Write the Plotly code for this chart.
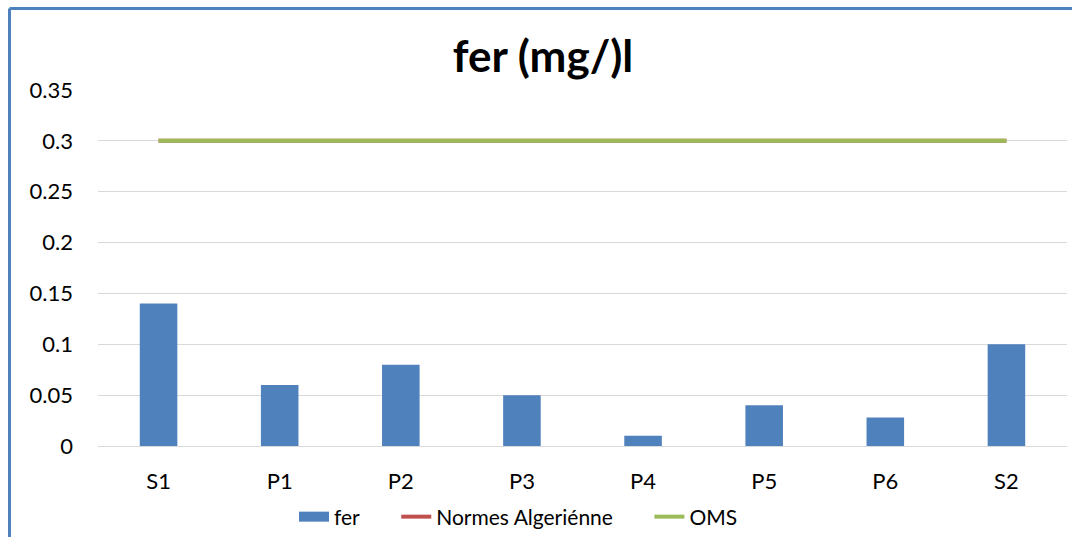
import plotly.graph_objects as go

categories = ["S1", "P1", "P2", "P3", "P4", "P5", "P6", "S2"]
fer = [0.14, 0.06, 0.08, 0.05, 0.01, 0.04, 0.028, 0.10]
normes_alg = [0.3] * 8
oms = [0.3] * 8
y_ticks = [0, 0.05, 0.1, 0.15, 0.2, 0.25, 0.3, 0.35]
y_tick_labels = ["0", "0.05", "0.1", "0.15", "0.2", "0.25", "0.3", "0.35"]

FONT = "Lato, 'Open Sans', sans-serif"

fig = go.Figure()
fig.add_trace(go.Bar(x=categories, y=fer, name="fer", marker_color="#4F81BD",
                     marker_line_width=0, showlegend=False))
# legend entry for the bar series drawn as a wide block like the original
fig.add_trace(go.Scatter(x=[None], y=[None], name="fer", mode="lines",
                         line=dict(color="#4F81BD", width=14)))
fig.add_trace(go.Scatter(x=categories, y=normes_alg, name="Normes Algeriénne",
                         mode="lines", line=dict(color="#C0504D", width=4)))
fig.add_trace(go.Scatter(x=categories, y=oms, name="OMS",
                         mode="lines", line=dict(color="#9BBB59", width=4)))

L, R, T, B = 98, 5, 90, 91
W, H = 1072, 537
pw = W - L - R
ph = H - T - B

def px_x(x):
    return (x - L) / pw

def px_y(y):
    return 1 - (y - T) / ph

fig.update_layout(
    width=W, height=H,
    margin=dict(l=L, r=R, t=T, b=B, autoexpand=False),
    paper_bgcolor="white", plot_bgcolor="white",
    bargap=0.69,
    title=dict(text="<b>fer (mg/)l</b>", x=543 / W, xanchor="center",
               y=1 - 57 / H, yanchor="middle",
               font=dict(family=FONT, size=44, color="black")),
    font=dict(family=FONT, size=22, color="black"),
    showlegend=True,
    legend=dict(orientation="h", x=px_x(534), xanchor="center", y=px_y(517), yanchor="middle",
                font=dict(size=21), itemwidth=30, tracegroupgap=0,
                traceorder="normal", bgcolor="rgba(0,0,0,0)"),
    xaxis=dict(showgrid=False, showline=False, ticks="", tickfont=dict(size=22),
               ticklabelstandoff=20),
    yaxis=dict(range=[0, 0.35], tickvals=y_ticks, ticktext=y_tick_labels,
               showgrid=True, gridcolor="#D9D9D9", gridwidth=1,
               zeroline=True, zerolinecolor="#D9D9D9", zerolinewidth=1,
               showline=False, ticks="", tickfont=dict(size=22),
               ticklabelstandoff=24),
    shapes=[
        dict(type="line", xref="paper", yref="paper",
             x0=px_x(9.5), x1=px_x(1075), y0=px_y(8.5), y1=px_y(8.5),
             line=dict(color="#4F81BD", width=3)),
        dict(type="line", xref="paper", yref="paper",
             x0=px_x(9.5), x1=px_x(9.5), y0=px_y(8.5), y1=px_y(540),
             line=dict(color="#4F81BD", width=3)),
    ],
)
# give each legend entry the wider spacing of the original
for tr in fig.data:
    if tr.showlegend is not False:
        tr.name = tr.name + "\u2003\u2003"

fig.write_html("out.html")
